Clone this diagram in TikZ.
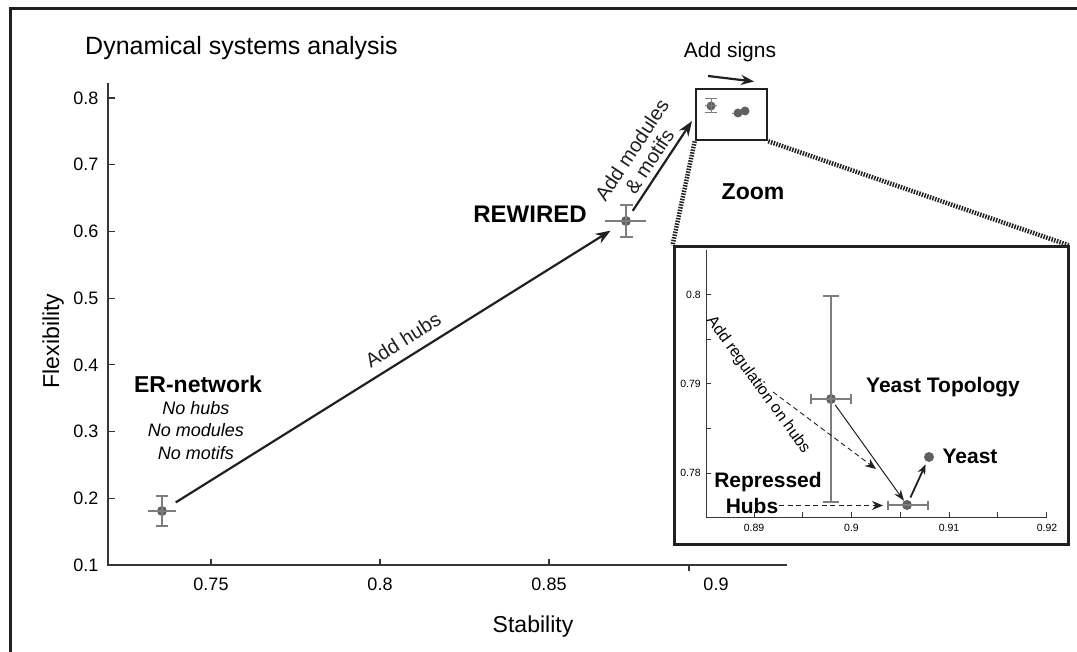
\documentclass[tikz,border=0pt]{standalone}
\usepackage{fontspec}
\setmainfont{Liberation Sans}
\usetikzlibrary{positioning,arrows.meta}
\definecolor{ink}{HTML}{231F20}
\definecolor{dotgray}{HTML}{5F6064}
\definecolor{bargray}{HTML}{7D7D7D}

\begin{document}
\begin{tikzpicture}[x=1pt,y=-1pt,
  dot/.style={circle,fill=dotgray,inner sep=0pt,minimum size=10pt},
  err/.style={draw=bargray,line width=1.3pt},
  axis/.style={draw=ink!90,line width=1.2pt},
  frame/.style={draw=ink,line width=2.8pt},
  arr/.style={-{Stealth[length=15pt,width=11pt]},line width=2.2pt,color=ink},
  thinarr/.style={-{Stealth[length=11pt,width=8pt]},line width=1pt,color=ink},
  dasharr/.style={-{Stealth[length=11pt,width=9pt]},line width=0.9pt,dash pattern=on 5pt off 3.5pt,color=ink},
  zoomline/.style={line width=4.5pt,dash pattern=on 1.5pt off 1.3pt,color=ink},
  tick/.style={font=\fontsize{18}{20}\selectfont,inner sep=1pt},
  smalltick/.style={font=\fontsize{10.5}{12}\selectfont,inner sep=1pt},
  txt/.style={font=\fontsize{#1}{#1}\selectfont,inner sep=0pt},
  bold/.style={font=\fontsize{#1}{#1}\selectfont\bfseries,inner sep=0pt}]

\useasboundingbox (0,0) rectangle (1077,652);
\draw[frame] (10.5,660) -- (10.5,8.5) -- (1085,8.5);

% main axes
\draw[axis] (108,83) -- (108,565) -- (787,565);
\foreach \i in {1,...,8}
  \draw[axis] (108,{565-(\i-1)*66.7}) -- ++(7,0) node[pos=0,left=8pt,tick] (yl\i) {0.\i};
\foreach \x/\l in {211/0.75,380/0.8,549/0.85}
  \draw[axis] (\x,565) -- ++(0,-6) node[pos=0,below=11pt,tick] (xl\l) {\l};
\draw[axis] (689,565) -- ++(0,6);
\node[tick] (xl0.9) at (716,584) {0.9};

\node[txt=25,anchor=base west] (title) at (85,55) {Dynamical systems analysis};
\node[txt=23,anchor=base] (stab) at (533,632) {Stability};
\node[txt=23,anchor=base,rotate=90] (flex) at (59,341) {Flexibility};

% data points
\node[dot] (er) at (162,511) {};
\draw[err] (148,511) -- (176,511);
\draw[err] (162,496) -- (162,526) (156,496) -- (168,496) (156,526) -- (168,526);
\node[dot] (rew) at (626,221) {};
\draw[err] (605,221) -- (646,221);
\draw[err] (626,205) -- (626,237) (619.5,205) -- (632.5,205) (619.5,237) -- (632.5,237);

\node[bold=23,anchor=base] (erlabel) at (198,392) {ER-network};
\node[txt=18,anchor=north,align=center,font=\fontsize{18}{22.5}\selectfont\itshape] (nolist) at (196,401) {No hubs\\No modules\\No motifs};
\node[bold=24,anchor=base] (rewlabel) at (530,223) {REWIRED};

\draw[arr,shorten <=11pt,shorten >=13pt] (er) -- node[pos=0.54,above=9pt,sloped,txt=20] {Add hubs} (rew);

% small box
\node[draw=ink,line width=2.6pt,minimum width=71pt,minimum height=51pt,inner sep=0pt] (smallbox) at (731.5,114.5) {};
\coordinate (modend) at (692,121);
\draw[arr,shorten <=7pt] (rew) -- node[midway,above=5pt,sloped,align=center,font=\fontsize{20}{21}\selectfont,inner sep=0pt] {Add modules\\\& motifs} (modend);
\node[dot,minimum size=9pt] (p1) at (711,106) {};
\draw[err,line width=1pt] (705,106) -- (717,106) (711,99) -- (711,113) (705,99) -- (717,99) (705,113) -- (717,113);
\draw[err,line width=1pt] (732,113.5) -- (742,113.5);
\node[dot,minimum size=9pt] (p2) at (738,113) {};
\node[dot,minimum size=9pt] (p3) at (745,111) {};

\node[txt=21,anchor=base] (signs) at (730,58) {Add signs};
\coordinate (sg1) at (708,76);
\coordinate (sg2) at (754,81.5);
\draw[arr,-{Stealth[length=13pt,width=10pt]}] (sg1) -- (sg2);

\node[bold=23,anchor=base] (zoom) at (753,200) {Zoom};

% inset
\node[draw=ink,line width=3pt,minimum width=394pt,minimum height=297pt,inner sep=0pt] (inset) at (871,395.5) {};
\draw[zoomline] (smallbox.south west) -- (inset.north west);
\draw[zoomline] (smallbox.south east) -- (inset.north east);

\draw[axis,line width=1pt] (706,250) -- (706,517) -- (1047,517);
\foreach \k in {1,...,7}
  \draw[axis,line width=1pt] ({705.5+48.7*\k},517) -- ++(0,-5);
\foreach \k in {0,...,4}
  \draw[axis,line width=1pt] (706,{473-44.5*\k}) -- ++(5,0);
\foreach \x/\l in {754/0.89,851.5/0.9,949/0.91,1047/0.92}
  \node[smalltick] (ixl\l) at (\x,528) {\l};
\foreach \y/\l in {473/0.78,384/0.79,295/0.8}
  \node[smalltick,anchor=east] (iyl\l) at (702,\y) {\l};

\node[dot] (yt) at (831,399) {};
\draw[err] (831,296) -- (831,502) (823,296) -- (839,296) (823,502) -- (839,502);
\draw[err] (811,399) -- (851,399) (811,394) -- (811,404) (851,394) -- (851,404);
\node[dot] (rh) at (907,505) {};
\draw[err] (888,505) -- (928,505) (888,500.5) -- (888,509.5) (928,500.5) -- (928,509.5);
\node[dot] (ye) at (929,457) {};

\node[bold=21,anchor=base] (ytlabel) at (943,393) {Yeast Topology};
\node[bold=21,anchor=base] (yelabel) at (970,463) {Yeast};
\node[bold=21,anchor=base] (rep) at (768,487) {Repressed};
\node[bold=21,anchor=base,inner sep=1pt] (hubs) at (752,513) {Hubs};
\node[txt=16,rotate=-54] (addreg) at (758,385) {Add regulation on hubs};

\draw[thinarr,shorten <=2pt] (yt) -- (rh);
\draw[arr,line width=1.8pt,-{Stealth[length=10pt,width=8pt]},shorten <=3pt,shorten >=3pt] (rh) -- (ye);
\coordinate (regstart) at (773,392);
\coordinate (regend) at (876,469);
\draw[dasharr] (regstart) -- (regend);
\coordinate (hubend) at (883,507);
\draw[dasharr] (hubs.east) -- (hubs.east -| hubend);

\end{tikzpicture}
\end{document}
